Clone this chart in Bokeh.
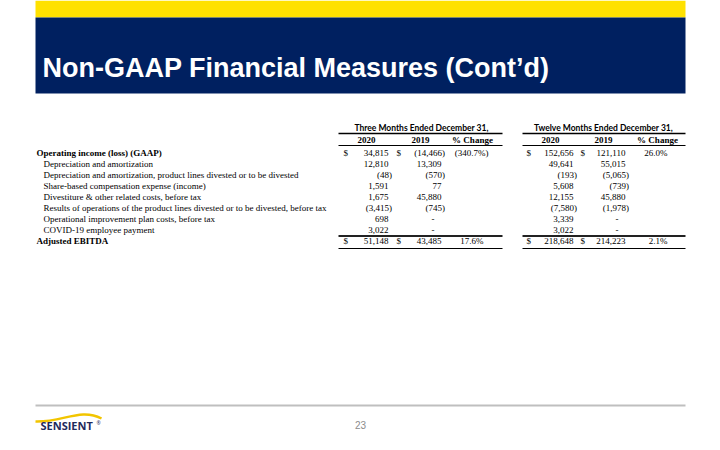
from bokeh.plotting import figure
from bokeh.models import Range1d, ColumnDataSource
from bokeh.core.properties import value
from bokeh.embed import file_html
from bokeh.resources import INLINE

# ---------------- data ----------------
slide_title = "Non-GAAP Financial Measures (Cont\u2019d)"
page_number = "23"
period_titles = ["Three Months Ended December 31,", "Twelve Months Ended December 31,"]
column_heads = ["2020", "2019", "% Change"]
row_labels = [
    "Operating income (loss) (GAAP)",
    "Depreciation and amortization",
    "Depreciation and amortization, product lines divested or to be divested",
    "Share-based compensation expense (income)",
    "Divestiture & other related costs, before tax",
    "Results of operations of the product lines divested or to be divested, before tax",
    "Operational improvement plan costs, before tax",
    "COVID-19 employee payment",
    "Adjusted EBITDA",
]
row_bold = [True, False, False, False, False, False, False, False, True]
q4_2020 = [34815, 12810, -48, 1591, 1675, -3415, 698, 3022, 51148]
q4_2019 = [-14466, 13309, -570, 77, 45880, -745, None, None, 43485]
q4_change = [-340.7, None, None, None, None, None, None, None, 17.6]
fy_2020 = [152656, 49641, -193, 5608, 12155, -7580, 3339, 3022, 218648]
fy_2019 = [121110, 55015, -5065, -739, 45880, -1978, None, None, 214223]
fy_change = [26.0, None, None, None, None, None, None, None, 2.1]

# ---------------- layout ----------------
W, H = 704, 434
p = figure(width=W, height=H, x_range=Range1d(0, W), y_range=Range1d(H, 0),
           output_backend="svg", toolbar_location=None, min_border=0)
p.axis.visible = False
p.grid.visible = False
p.outline_line_color = None
p.background_fill_color = "white"
p.border_fill_color = "white"

# header bands
p.quad(left=35, right=685, top=0, bottom=17, fill_color="#FFE100", line_color=None)
p.quad(left=35, right=685, top=17, bottom=93, fill_color="#002060", line_color=None)
p.text(x=[42], y=[67], text=[slide_title], text_color="white",
       text_font=value("Liberation Sans"), text_font_style="bold",
       text_font_size="27px", text_baseline="alphabetic", text_align="left")

SERIF = value("Liberation Serif")
FS = "9px"
row_y0, row_dy = 152.0, 11.1
row_y = [row_y0 + i * row_dy for i in range(len(row_labels))]

# row labels
lab_x = [36 if b else 43 for b in row_bold]
for bold in (True, False):
    idx = [i for i, b in enumerate(row_bold) if b == bold]
    p.text(x=[lab_x[i] for i in idx], y=[row_y[i] for i in idx],
           text=[row_labels[i] for i in idx], text_font=SERIF,
           text_font_style="bold" if bold else "normal", text_font_size=FS,
           text_baseline="middle", text_align="left", text_color="black")

def fmt_num(v):
    if v is None:
        return "-"
    s = f"{abs(v):,}"
    return f"({s})" if v < 0 else s

def fmt_pct(v):
    if v is None:
        return ""
    s = f"{abs(v):.1f}%"
    return f"({s})" if v < 0 else s

def num_x(v, right):
    if v is None:
        return right - 7
    return right + 3.5 if v < 0 else right

blocks = [
    dict(title=period_titles[0], cols=(q4_2020, q4_2019, q4_change),
         dollars=(343, 396), rights=(388, 441, 483), heads=(366, 420, 472),
         center=421, l=338, r=502),
    dict(title=period_titles[1], cols=(fy_2020, fy_2019, fy_change),
         dollars=(526, 580), rights=(573, 625, 667), heads=(550, 603, 657),
         center=603, l=522, r=685),
]

for b in blocks:
    # period title
    p.text(x=[b["center"]], y=[127], text=[b["title"]], text_font=value("Lato"),
           text_font_style="bold", text_font_size="8.5px", text_baseline="middle",
           text_align="center", text_color="black")
    p.segment(x0=[b["l"]], y0=[133], x1=[b["r"]], y1=[133], line_color="black", line_width=1.5)
    # column heads
    p.text(x=list(b["heads"]), y=[139] * 3, text=column_heads, text_font=SERIF,
           text_font_style="bold", text_font_size=FS, text_baseline="middle",
           text_align="center", text_color="black")
    p.segment(x0=[b["l"]], y0=[145], x1=[b["r"]], y1=[145], line_color="black", line_width=1.2)
    # dollar signs on first and last row
    for dx in b["dollars"]:
        p.text(x=[dx, dx], y=[row_y[0], row_y[-1]], text=["$", "$"], text_font=SERIF,
               text_font_size=FS, text_baseline="middle", text_align="left", text_color="black")
    # numbers
    for ci in range(2):
        vals = b["cols"][ci]
        src = ColumnDataSource(dict(
            x=[num_x(v, b["rights"][ci]) for v in vals], y=row_y,
            t=[fmt_num(v) for v in vals]))
        p.text(x="x", y="y", text="t", source=src, text_font=SERIF, text_font_size=FS,
               text_baseline="middle", text_align="right", text_color="black")
    pv = b["cols"][2]
    src = ColumnDataSource(dict(
        x=[b["rights"][2] + (5 if (v is not None and v < 0) else 0) for v in pv], y=row_y,
        t=[fmt_pct(v) for v in pv]))
    p.text(x="x", y="y", text="t", source=src, text_font=SERIF, text_font_size=FS,
           text_baseline="middle", text_align="right", text_color="black")
    # total lines
    p.segment(x0=[b["l"]], y0=[235.5], x1=[b["r"]], y1=[235.5], line_color="#222222", line_width=2)
    p.segment(x0=[b["l"]], y0=[248], x1=[b["r"]], y1=[248], line_color="black", line_width=1)

# footer
p.segment(x0=[35], y0=[405], x1=[685], y1=[405], line_color="#BFBFBF", line_width=2)
p.text(x=[360], y=[424], text=[page_number], text_font=value("Liberation Sans"),
       text_font_size="10px", text_baseline="middle", text_align="center", text_color="#8C8C8C")
# logo
p.bezier(x0=[35], y0=[421], x1=[101], y1=[418], cx0=[62], cy0=[422], cx1=[80], cy1=[407],
         line_color="#F2C500", line_width=2.5)
p.text(x=[40], y=[425], text=["SENSIENT"], text_font=value("Open Sans"), text_font_style="bold",
       text_font_size="11px", text_baseline="middle", text_align="left", text_color="#1F2A5C")
p.text(x=[96], y=[422], text=["\u00ae"], text_font=value("Open Sans"),
       text_font_size="5px", text_baseline="middle", text_align="left", text_color="#1F2A5C")

open("out.html", "w").write(file_html(p, INLINE))
